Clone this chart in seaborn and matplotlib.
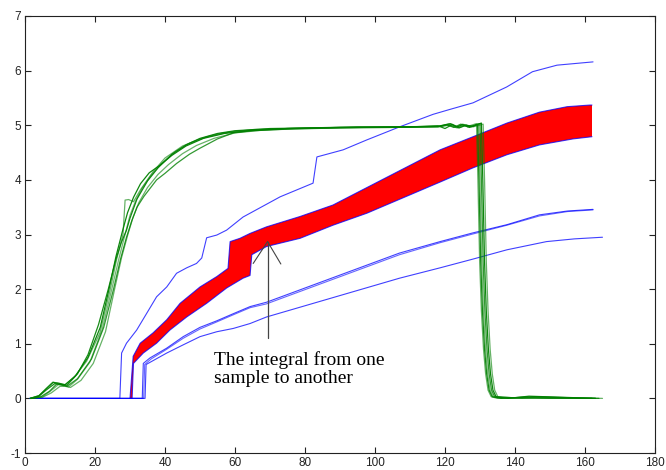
import matplotlib
matplotlib.use("Agg")
import matplotlib.pyplot as plt
import seaborn as sns
import numpy as np

# ---------------- data ----------------
xticks = [0, 20, 40, 60, 80, 100, 120, 140, 160, 180]
yticks = [-1, 0, 1, 2, 3, 4, 5, 6, 7]

# green curves (six samples)
g1_x = [1.4, 4, 6, 8, 9.5, 11, 14, 17.6, 21.4, 24.3, 26.2, 28.0, 28.6, 29.6, 31.0, 33.0, 36.6, 40.0, 45.0, 50.0,
        55.0, 60.0, 70.0, 80.0, 95.0, 110.0, 118.0, 121.0, 123.0, 125.0, 127.0, 129.0, 129.4, 129.9, 130.4, 131.0,
        131.6, 132.3, 133.2, 135.0, 143.0, 150.0, 162.0]
g1_y = [0.0, 0.05, 0.18, 0.30, 0.27, 0.23, 0.38, 0.68, 1.20, 1.98, 2.55, 3.00, 3.63, 3.64, 3.60, 3.82, 4.15, 4.40,
        4.62, 4.75, 4.84, 4.89, 4.93, 4.95, 4.96, 4.97, 4.98, 5.02, 4.96, 5.02, 4.99, 5.03, 4.00, 2.50, 1.60, 0.90,
        0.45, 0.15, 0.03, 0.0, 0.02, 0.0, 0.0]
g2_x = [1.6, 4, 6, 8.5, 10, 12, 15, 18, 21, 23.8, 26, 27.5, 29.0, 30.0, 32.0, 35.0, 38.0, 42.0, 46.0, 50.0,
        55.0, 60.0, 70.0, 80.0, 95.0, 110.0, 118.0, 120.0, 122.0, 124.0, 126.0, 128.0, 129.3, 129.7, 130.2, 130.7,
        131.3, 131.9, 132.6, 133.5, 136.0, 145.0, 163.0]
g2_y = [0.0, 0.04, 0.15, 0.27, 0.26, 0.24, 0.45, 0.80, 1.35, 2.00, 2.55, 2.85, 3.08, 3.30, 3.65, 3.98, 4.22, 4.47,
        4.64, 4.76, 4.85, 4.90, 4.94, 4.95, 4.97, 4.97, 4.99, 4.94, 5.01, 4.95, 5.00, 4.98, 5.02, 4.00, 2.50, 1.60,
        0.90, 0.45, 0.15, 0.03, 0.0, 0.03, 0.0]
g3_x = [2.0, 5, 7, 9.5, 11, 12.5, 15, 18.5, 22, 24.8, 26.8, 28.5, 30.0, 31.5, 33.5, 36.0, 39.0, 43.0, 47.0, 52.0,
        58.0, 65.0, 75.0, 90.0, 105.0, 118.0, 121.0, 123.5, 125.5, 127.5, 129.6, 130.0, 130.5, 131.0, 131.6, 132.2,
        132.9, 133.8, 137.0, 162.0]
g3_y = [0.0, 0.03, 0.12, 0.25, 0.24, 0.21, 0.35, 0.66, 1.25, 2.00, 2.55, 2.98, 3.35, 3.60, 3.85, 4.08, 4.30, 4.52,
        4.67, 4.79, 4.87, 4.92, 4.94, 4.96, 4.96, 4.97, 5.00, 4.95, 5.01, 4.97, 5.02, 4.00, 2.50, 1.60, 0.90, 0.45,
        0.15, 0.03, 0.0, 0.0]
g4_x = [1.8, 4.5, 7, 9, 10.5, 12, 15, 19, 22.5, 25.3, 27.3, 29.0, 30.5, 32.0, 34.0, 37.6, 40.0, 43.3, 47.0, 50.0,
        55.0, 59.5, 65.0, 75.0, 90.0, 105.0, 118.0, 120.5, 122.5, 124.5, 126.5, 128.5, 130.0, 130.4, 130.9, 131.4,
        132.0, 132.6, 133.3, 134.2, 140.0, 164.0]
g4_y = [0.0, 0.03, 0.13, 0.26, 0.25, 0.22, 0.36, 0.72, 1.30, 2.00, 2.55, 2.95, 3.25, 3.50, 3.70, 4.00, 4.12, 4.30,
        4.47, 4.58, 4.75, 4.86, 4.90, 4.93, 4.95, 4.96, 4.97, 5.01, 4.96, 5.02, 4.97, 5.00, 5.03, 4.00, 2.50, 1.60,
        0.90, 0.45, 0.15, 0.03, 0.01, 0.0]
g5_x = [1.5, 4, 6.5, 8, 9.5, 11.5, 14.5, 18, 21.5, 24.0, 26.0, 27.8, 29.3, 31.0, 33.0, 35.5, 38.6, 42.0, 46.0, 51.0,
        57.0, 64.0, 75.0, 90.0, 105.0, 118.0, 121.5, 123.5, 125.0, 127.0, 129.0, 130.4, 130.8, 131.3, 131.8, 132.4,
        133.0, 133.7, 134.6, 138.0, 144.0, 163.0]
g5_y = [0.0, 0.05, 0.20, 0.29, 0.28, 0.25, 0.42, 0.75, 1.30, 2.00, 2.60, 3.05, 3.40, 3.68, 3.93, 4.13, 4.27, 4.45,
        4.62, 4.76, 4.85, 4.90, 4.94, 4.96, 4.97, 4.98, 5.03, 4.97, 5.01, 4.96, 5.01, 5.04, 4.00, 2.50, 1.60, 0.90,
        0.45, 0.15, 0.03, 0.0, 0.04, 0.0]
g6_x = [2.2, 5, 7.5, 10, 11.5, 13, 16, 19.5, 23, 25.6, 27.6, 29.3, 30.8, 32.5, 35.0, 38.0, 41.0, 45.0, 49.0, 54.0,
        60.0, 68.0, 80.0, 95.0, 110.0, 119.0, 122.0, 124.0, 126.0, 128.0, 130.9, 131.3, 131.8, 132.3, 132.9, 133.5,
        134.2, 135.1, 142.0, 146.0, 165.0]
g6_y = [0.0, 0.02, 0.10, 0.22, 0.22, 0.20, 0.33, 0.64, 1.22, 2.00, 2.58, 2.98, 3.30, 3.58, 3.86, 4.10, 4.28, 4.48,
        4.63, 4.76, 4.86, 4.91, 4.94, 4.96, 4.97, 4.98, 5.02, 4.96, 5.00, 4.97, 5.02, 4.00, 2.50, 1.60, 0.90, 0.45,
        0.15, 0.03, 0.0, 0.02, 0.0]

# top blue curve
bt_x = [1.4, 27.1, 27.6, 29.0, 31.9, 34.8, 37.6, 40.5, 43.3, 46.2, 49.0, 50.5, 51.9, 54.8, 57.6, 62.3, 72.9, 82.3,
        83.4, 90.9, 97.6, 107.0, 116.6, 121.4, 128.0, 137.6, 145.0, 152.0, 162.3]
bt_y = [0.0, 0.0, 0.83, 1.01, 1.25, 1.56, 1.86, 2.04, 2.29, 2.39, 2.47, 2.57, 2.94, 2.99, 3.08, 3.32, 3.69, 3.94,
        4.42, 4.55, 4.73, 4.97, 5.20, 5.29, 5.41, 5.70, 5.98, 6.10, 6.16]

# red band: upper and lower boundary curves
ru_x = [30.0, 30.9, 32.9, 36.6, 40.5, 44.3, 50.0, 54.8, 58.0, 58.6, 61.4, 64.3, 69.0, 78.6, 88.0, 118.6, 128.0,
        137.7, 147.0, 154.9, 161.4, 162.0]
ru_y = [0.0, 0.77, 1.01, 1.20, 1.44, 1.74, 2.04, 2.23, 2.38, 2.87, 2.93, 3.02, 3.14, 3.33, 3.54, 4.55, 4.79, 5.04,
        5.24, 5.34, 5.37, 5.37]
rl_x = [30.6, 31.0, 33.8, 37.6, 41.4, 46.2, 51.9, 57.6, 62.3, 64.3, 64.8, 69.0, 78.6, 88.0, 97.7, 118.6, 128.0,
        137.7, 147.0, 156.6, 162.0]
rl_y = [0.0, 0.64, 0.83, 1.01, 1.25, 1.49, 1.74, 2.02, 2.20, 2.25, 2.63, 2.78, 2.93, 3.17, 3.39, 3.96, 4.22, 4.46,
        4.64, 4.75, 4.79]

# lower blue curves (close pair + lowest)
ba_x = [1.4, 33.5, 33.8, 35.7, 40.5, 45.2, 50.0, 54.8, 59.5, 64.3, 69.0, 107.0, 118.6, 128.0, 137.7, 147.0, 155.0, 162.3]
ba_y = [0.0, 0.0, 0.64, 0.74, 0.92, 1.13, 1.30, 1.42, 1.55, 1.68, 1.76, 2.66, 2.87, 3.03, 3.18, 3.36, 3.43, 3.46]
bb_x = [1.4, 33.9, 34.2, 36.0, 40.5, 45.2, 50.0, 54.8, 59.5, 64.3, 69.0, 107.0, 118.6, 128.0, 137.7, 147.0, 155.0, 162.3]
bb_y = [0.0, 0.0, 0.62, 0.72, 0.90, 1.10, 1.27, 1.40, 1.53, 1.66, 1.73, 2.63, 2.85, 3.01, 3.17, 3.34, 3.42, 3.45]
bl_x = [1.4, 34.3, 34.6, 40.5, 45.2, 50.0, 54.8, 59.5, 64.3, 69.0, 107.0, 118.6, 128.0, 137.7, 149.0, 157.0, 165.0]
bl_y = [0.0, 0.0, 0.62, 0.83, 0.98, 1.13, 1.22, 1.28, 1.37, 1.49, 2.20, 2.39, 2.55, 2.72, 2.87, 2.92, 2.95]

note_text = "The integral from one\nsample to another"
note_pos = (54.0, 0.282)   # baseline of the last line
arrow_tail = (69.3, 1.10)
arrow_tip = (69.3, 2.87)
arrow_barbs = [(65.2, 2.47), (73.1, 2.46)]

# ---------------- style ----------------
sns.set_theme(style="ticks")
plt.rcParams["font.family"] = ["Liberation Sans", "DejaVu Sans"]
plt.rcParams["axes.linewidth"] = 0.8

fig = plt.figure(figsize=(6.66, 4.70), dpi=100)
ax = fig.add_axes([25 / 666, 17 / 470, 630 / 666, 437 / 470])
ax.set_facecolor("white")


def line(x, y, color, lw=0.9, alpha=1.0, z=2):
    sns.lineplot(x=x, y=y, ax=ax, color=color, lw=lw, alpha=alpha,
                 sort=False, estimator=None, zorder=z, legend=False)


BLUE = "#0000ff"
GREEN = "#008000"

# red band
ax.fill(list(ru_x) + list(rl_x[::-1]), list(ru_y) + list(rl_y[::-1]),
        color="#ff0000", lw=0, zorder=2)
line(ru_x, ru_y, BLUE, 0.8, 0.75, 3)
line(rl_x, rl_y, BLUE, 0.8, 0.75, 3)

# blue curves
line(bt_x, bt_y, BLUE, 0.8, 0.75, 3)
line(ba_x, ba_y, BLUE, 0.8, 0.75, 3)
line(bb_x, bb_y, BLUE, 0.8, 0.6, 3)
line(bl_x, bl_y, BLUE, 0.8, 0.75, 3)

# green curves
for gx, gy, a in [(g1_x, g1_y, 0.6), (g2_x, g2_y, 0.9), (g3_x, g3_y, 0.55),
                  (g4_x, g4_y, 0.8), (g5_x, g5_y, 0.95), (g6_x, g6_y, 0.6)]:
    line(gx, gy, GREEN, 0.9, a, 4)

# annotation
ax.plot([arrow_tail[0], arrow_tip[0]], [arrow_tail[1], arrow_tip[1]], color="#444444", lw=0.9, zorder=5)
for bx, by in arrow_barbs:
    ax.plot([arrow_tip[0], bx], [arrow_tip[1], by], color="#444444", lw=0.8, zorder=5)
ax.text(note_pos[0], note_pos[1], note_text, family=["Liberation Serif", "DejaVu Serif"],
        fontsize=14, va="baseline", ha="left", linespacing=1.1, color="black", zorder=6)

ax.set_xlim(0, 180)
ax.set_ylim(-1, 7)
ax.set_xticks(xticks)
ax.set_yticks(yticks)
ax.set_xticklabels([str(t) for t in xticks])
ax.set_yticklabels([str(t) for t in yticks])
ax.set_xlabel("")
ax.set_ylabel("")
for s in ax.spines.values():
    s.set_visible(True)
    s.set_color("#222222")
    s.set_linewidth(0.8)
ax.tick_params(direction="in", top=True, right=True, length=4, width=0.8,
               labelsize=8.5, colors="#222222", pad=3)

fig.savefig("out.png", dpi=100)
